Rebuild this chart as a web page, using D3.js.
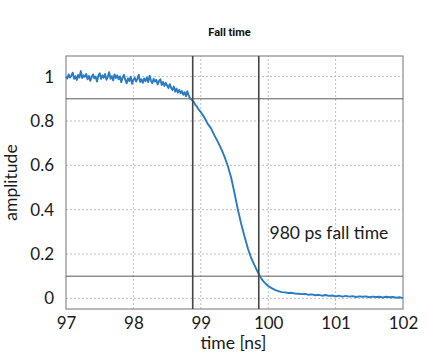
<!DOCTYPE html>
<html>
<head>
<meta charset="utf-8">
<script src="https://cdn.jsdelivr.net/npm/d3@7"></script>
<style>
  body { margin: 0; background: #fff; }
  svg { display: block; }
  .lbl { font-family: Lato, "Open Sans", sans-serif; fill: #1a1a1a; }
</style>
</head>
<body>
<script>
// time axis samples [ns]
var times = [
  97.00, 97.02, 97.04, 97.06, 97.08, 97.10, 97.12, 97.14, 97.16, 97.18,
  97.20, 97.22, 97.24, 97.26, 97.28, 97.30, 97.32, 97.34, 97.36, 97.38,
  97.40, 97.42, 97.44, 97.46, 97.48, 97.50, 97.52, 97.54, 97.56, 97.58,
  97.60, 97.62, 97.64, 97.66, 97.68, 97.70, 97.72, 97.74, 97.76, 97.78,
  97.80, 97.82, 97.84, 97.86, 97.88, 97.90, 97.92, 97.94, 97.96, 97.98,
  98.00, 98.02, 98.04, 98.06, 98.08, 98.10, 98.12, 98.14, 98.16, 98.18,
  98.20, 98.22, 98.24, 98.26, 98.28, 98.30, 98.32, 98.34, 98.36, 98.38,
  98.40, 98.42, 98.44, 98.46, 98.48, 98.50, 98.52, 98.54, 98.56, 98.58,
  98.60, 98.62, 98.64, 98.66, 98.68, 98.70, 98.72, 98.74, 98.76, 98.78,
  98.80, 98.82, 98.84, 98.86, 98.88, 98.90, 98.92, 98.94, 98.96, 98.98,
  99.00, 99.05, 99.10, 99.15, 99.20, 99.25, 99.30, 99.35, 99.40, 99.45,
  99.50, 99.55, 99.60, 99.65, 99.70, 99.75, 99.80, 99.85, 99.90, 99.95,
  100.00, 100.05, 100.10, 100.15, 100.20, 100.25, 100.30, 100.35, 100.40, 100.45,
  100.50, 100.55, 100.60, 100.65, 100.70, 100.75, 100.80, 100.85, 100.90, 100.95,
  101.00, 101.05, 101.10, 101.15, 101.20, 101.25, 101.30, 101.35, 101.40, 101.45,
  101.50, 101.55, 101.60, 101.65, 101.70, 101.75, 101.80, 101.85, 101.90, 101.95,
  102.00
];

// measured amplitude
var amplitude = [
  1.000, 0.992, 1.010, 0.996, 1.004, 1.018, 0.990, 1.002, 0.985, 1.008,
  0.996, 1.025, 0.994, 1.006, 0.999, 1.012, 0.988, 1.003, 0.981, 0.998,
  1.010, 0.992, 1.000, 0.978, 1.004, 1.015, 0.990, 1.006, 0.995, 1.012,
  0.986, 0.999, 1.020, 0.990, 1.002, 0.983, 1.010, 0.994, 1.006, 0.988,
  1.001, 0.975, 0.996, 1.008, 0.985, 0.970, 0.992, 0.980, 1.000, 0.968,
  0.985, 0.995, 0.978, 0.990, 1.008, 0.976, 0.988, 0.972, 0.992, 0.980,
  0.996, 0.975, 1.004, 0.982, 0.970, 0.990, 0.978, 0.986, 0.965, 0.980,
  0.988, 0.962, 0.976, 0.958, 0.972, 0.960, 0.948, 0.966, 0.950, 0.940,
  0.955, 0.932, 0.946, 0.928, 0.940, 0.925, 0.935, 0.918, 0.930, 0.912,
  0.934, 0.915, 0.902, 0.898, 0.890, 0.884, 0.872, 0.866, 0.855, 0.848,
  0.840, 0.818, 0.788, 0.768, 0.736, 0.708, 0.676, 0.640, 0.598, 0.545,
  0.475, 0.400, 0.335, 0.278, 0.224, 0.180, 0.148, 0.115, 0.088, 0.070,
  0.056, 0.046, 0.038, 0.033, 0.028, 0.027, 0.024, 0.025, 0.022, 0.021,
  0.019, 0.020, 0.016, 0.018, 0.014, 0.016, 0.012, 0.015, 0.011, 0.013,
  0.009, 0.012, 0.008, 0.011, 0.008, 0.010, 0.006, 0.009, 0.007, 0.009,
  0.005, 0.008, 0.006, 0.007, 0.004, 0.007, 0.005, 0.006, 0.003, 0.005,
  0.001
];

var xTicks = [97, 98, 99, 100, 101, 102];
var yTicks = [0, 0.2, 0.4, 0.6, 0.8, 1];
var levels = [0.1, 0.9];          // 10% / 90% thresholds
var crossings = [98.88, 99.86];   // times where the thresholds are crossed
var note = "980 ps fall time";

var width = 428, height = 364;
var margin = { left: 66, right: 25, top: 56, bottom: 55 };

var svg = d3.select('body').append('svg')
    .attr('width', width)
    .attr('height', height);

svg.append('rect').attr('width', width).attr('height', height).attr('fill', '#fff');

var x = d3.scaleLinear().domain([97, 102]).range([margin.left, width - margin.right]);
var y = d3.scaleLinear().domain([-0.048, 1.093]).range([height - margin.bottom, margin.top]);

// dotted grid
svg.append('g').selectAll('line')
    .data(xTicks.slice(1, -1))
    .enter().append('line')
        .attr('x1', function(d) { return x(d) }).attr('x2', function(d) { return x(d) })
        .attr('y1', y.range()[0]).attr('y2', y.range()[1])
        .attr('stroke', '#bdbdbd').attr('stroke-dasharray', '2,2');

svg.append('g').selectAll('line')
    .data(yTicks)
    .enter().append('line')
        .attr('x1', x.range()[0]).attr('x2', x.range()[1])
        .attr('y1', function(d) { return y(d) }).attr('y2', function(d) { return y(d) })
        .attr('stroke', '#bdbdbd').attr('stroke-dasharray', '2,2');

// axes (labels only, frame drawn separately)
var xAxis = svg.append('g')
    .attr('transform', 'translate(0,' + y.range()[0] + ')')
    .call(d3.axisBottom(x).tickValues(xTicks).tickSize(0).tickPadding(8).tickFormat(d3.format('d')));

var yAxis = svg.append('g')
    .attr('transform', 'translate(' + x.range()[0] + ',0)')
    .call(d3.axisLeft(y).tickValues(yTicks).tickSize(0).tickPadding(12).tickFormat(function(d) { return d === 0 || d === 1 ? d : d3.format('.1f')(d) }));

[xAxis, yAxis].forEach(function(g) {
    g.select('.domain').remove();
    g.selectAll('text')
        .attr('class', 'lbl')
        .style('font-size', '17px');
});

// frame
svg.append('rect')
    .attr('x', x.range()[0]).attr('y', y.range()[1])
    .attr('width', x.range()[1] - x.range()[0])
    .attr('height', y.range()[0] - y.range()[1])
    .attr('fill', 'none').attr('stroke', '#8a8a8a').attr('stroke-width', 1.2);

// threshold lines
svg.append('g').selectAll('line')
    .data(levels)
    .enter().append('line')
        .attr('x1', x.range()[0]).attr('x2', x.range()[1])
        .attr('y1', function(d) { return y(d) }).attr('y2', function(d) { return y(d) })
        .attr('stroke', '#5a5a5a').attr('stroke-width', 1);

// signal
var line = d3.line()
    .x(function(d, i) { return x(times[i]) })
    .y(function(d) { return y(d) });

svg.append('path')
    .datum(amplitude)
    .attr('d', line)
    .attr('fill', 'none')
    .attr('stroke', '#2a7bc1')
    .attr('stroke-width', 1.9)
    .attr('stroke-linejoin', 'round');

svg.append('g').selectAll('line')
    .data(crossings)
    .enter().append('line')
        .attr('x1', function(d) { return x(d) }).attr('x2', function(d) { return x(d) })
        .attr('y1', y.range()[0]).attr('y2', y.range()[1])
        .attr('stroke', '#444').attr('stroke-width', 1.6);

// annotation
svg.append('text')
    .attr('class', 'lbl')
    .attr('x', x(100.02)).attr('y', y(0.268))
    .style('font-size', '17.5px')
    .text(note);

// axis titles
svg.append('text')
    .attr('class', 'lbl')
    .attr('x', (x.range()[0] + x.range()[1]) / 2 - 1)
    .attr('y', 349)
    .attr('text-anchor', 'middle')
    .style('font-size', '17.5px')
    .text('time [ns]');

svg.append('text')
    .attr('class', 'lbl')
    .attr('transform', 'translate(17,' + ((y.range()[0] + y.range()[1]) / 2) + ') rotate(-90)')
    .attr('text-anchor', 'middle')
    .style('font-size', '17.5px')
    .text('amplitude');

svg.append('text')
    .attr('x', 229.5).attr('y', 36)
    .attr('text-anchor', 'middle')
    .style('font-family', 'Roboto, sans-serif')
    .style('font-weight', 'bold')
    .style('font-size', '11px')
    .attr('fill', '#111')
    .text('Fall time');
</script>
</body>
</html>
